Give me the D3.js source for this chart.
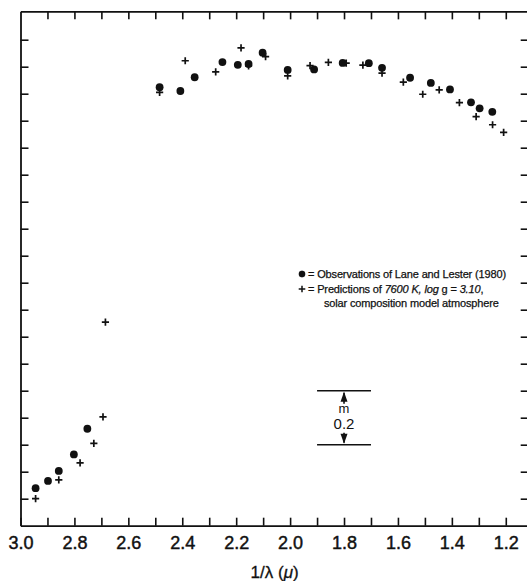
<!DOCTYPE html>
<html>
<head>
<meta charset="utf-8">
<script src="https://cdn.jsdelivr.net/npm/d3@7"></script>
<style>
  body { margin: 0; background: #fff; }
  svg { display: block; font-family: "Liberation Sans", Arial, sans-serif; }
</style>
</head>
<body>
<svg id="chart"></svg>
<script>
const width = 527;
const height = 581;

// Lane and Lester (1980) observations: 1/lambda and relative magnitude
const obsX = [2.944, 2.898, 2.858, 2.802, 2.752, 2.484, 2.407, 2.354, 2.251, 2.194, 2.154, 2.102,
              2.009, 1.911, 1.805, 1.708, 1.659, 1.555, 1.478, 1.407, 1.329, 1.297, 1.250];
const obsM = [0.139, 0.166, 0.203, 0.264, 0.359, 1.624, 1.610, 1.661, 1.717, 1.707, 1.710, 1.752,
              1.688, 1.690, 1.714, 1.713, 1.696, 1.659, 1.640, 1.616, 1.568, 1.546, 1.533];

// model predictions (7600 K, log g = 3.10)
const predX = [2.944, 2.858, 2.779, 2.728, 2.694, 2.685, 2.484, 2.389, 2.276, 2.182, 2.154, 2.091,
               2.009, 1.926, 1.858, 1.792, 1.730, 1.659, 1.580, 1.508, 1.447, 1.372, 1.310, 1.249, 1.208];
const predM = [0.100, 0.170, 0.233, 0.305, 0.403, 0.754, 1.605, 1.722, 1.681, 1.770, 1.703, 1.737,
               1.666, 1.704, 1.716, 1.713, 1.706, 1.676, 1.643, 1.598, 1.614, 1.567, 1.515, 1.485, 1.457];

const xTicks = d3.range(30, 11, -1).map(d => d / 10);
const xLabels = ["3.0", "2.8", "2.6", "2.4", "2.2", "2.0", "1.8", "1.6", "1.4", "1.2"];
const yTicks = d3.range(1, 19).map(d => d / 10);

const svg = d3.select("#chart")
              .attr("width", width)
              .attr("height", height);

const x = d3.scaleLinear()
            .domain([3.0, 1.115])
            .range([20.5, 528.7]);

const y = d3.scaleLinear()
            .domain([0, 1.905])
            .range([525.7, 11.35]);

const fmt = d => {
  const s = d.toFixed(1);
  return xLabels.includes(s) ? s : "";
};

// frame with inward ticks
const bottomAxis = svg.append("g")
                      .attr("transform", "translate(0," + y(0) + ")")
                      .call(d3.axisBottom(x).tickValues(xTicks).tickSize(-8).tickSizeOuter(0)
                              .tickPadding(11).tickFormat(fmt));
bottomAxis.selectAll("text")
          .style("font-size", "18px")
          .attr("fill", "#111")
          .attr("stroke", "#111")
          .attr("stroke-width", 0.45);

svg.append("g")
   .attr("transform", "translate(0," + y(1.905) + ")")
   .call(d3.axisTop(x).tickValues(xTicks.slice(1)).tickSize(-8).tickSizeOuter(0).tickFormat(""));

svg.append("g")
   .attr("transform", "translate(" + x(3.0) + ",0)")
   .call(d3.axisLeft(y).tickValues(yTicks).tickSize(-8).tickSizeOuter(0).tickFormat(""));

svg.append("g")
   .attr("transform", "translate(" + x(1.115) + ",0)")
   .call(d3.axisRight(y).tickValues(yTicks).tickSize(-8).tickSizeOuter(0).tickFormat(""));

svg.selectAll(".domain")
   .attr("stroke", "#111")
   .attr("stroke-width", 1.8);
svg.selectAll(".tick line")
   .attr("stroke", "#111")
   .attr("stroke-width", 1.6);

// x axis title
const title = svg.append("text")
                 .attr("x", (x(3.0) + x(1.115)) / 2)
                 .attr("y", 578)
                 .attr("text-anchor", "middle")
                 .style("font-size", "17px")
                 .attr("fill", "#111")
                 .attr("stroke", "#111")
                 .attr("stroke-width", 0.3);
title.append("tspan").text("1/λ (");
title.append("tspan").style("font-style", "italic").text("μ");
title.append("tspan").text(")");

// observations
svg.append("g")
   .selectAll("circle")
   .data(obsX)
   .enter()
   .append("circle")
   .attr("cx", d => x(d))
   .attr("cy", (d, i) => y(obsM[i]))
   .attr("r", 3.9)
   .attr("fill", "#111");

// predictions
const plus = "M-3.6,0H3.6M0,-3.6V3.6";
svg.append("g")
   .selectAll("path")
   .data(predX)
   .enter()
   .append("path")
   .attr("d", plus)
   .attr("transform", (d, i) => "translate(" + x(d) + "," + y(predM[i]) + ")")
   .attr("stroke", "#111")
   .attr("stroke-width", 1.7)
   .attr("fill", "none");

// legend
const legend = svg.append("g")
                  .style("font-size", "11px")
                  .style("letter-spacing", "-0.15px")
                  .attr("fill", "#111")
                  .attr("stroke", "#111")
                  .attr("stroke-width", 0.25);

legend.append("circle")
      .attr("cx", 302)
      .attr("cy", 274)
      .attr("r", 3.2);
legend.append("text")
      .attr("x", 308)
      .attr("y", 278)
      .text("= Observations of Lane and Lester (1980)");

legend.append("path")
      .attr("d", "M-3.3,0H3.3M0,-3.3V3.3")
      .attr("transform", "translate(302,289)")
      .attr("stroke-width", 1.5);
const row2 = legend.append("text")
                   .attr("x", 308)
                   .attr("y", 293);
row2.append("tspan").text("= Predictions of ");
row2.append("tspan").style("font-style", "italic").text("7600 K,");
row2.append("tspan").text(" ");
row2.append("tspan").style("font-style", "italic").text("log");
row2.append("tspan").text(" g = ");
row2.append("tspan").style("font-style", "italic").text("3.10");
row2.append("tspan").text(",");

legend.append("text")
      .attr("x", 324)
      .attr("y", 307)
      .text("solar composition model atmosphere");

// 0.2 mag scale bar
const bar = svg.append("g")
               .attr("stroke", "#111")
               .attr("fill", "#111");
const barTop = y(0.5);
const barBot = y(0.3);
const barMid = x(1.8);

bar.append("line")
   .attr("x1", x(1.9)).attr("x2", x(1.7))
   .attr("y1", barTop).attr("y2", barTop)
   .attr("stroke-width", 1.5);
bar.append("line")
   .attr("x1", x(1.9)).attr("x2", x(1.7))
   .attr("y1", barBot).attr("y2", barBot)
   .attr("stroke-width", 1.5);
bar.append("line")
   .attr("x1", barMid).attr("x2", barMid)
   .attr("y1", barTop + 2).attr("y2", barTop + 13)
   .attr("stroke-width", 1.6);
bar.append("path")
   .attr("d", "M" + barMid + "," + (barTop + 1) + "l-3.5,10h7z")
   .attr("stroke", "none");
bar.append("line")
   .attr("x1", barMid).attr("x2", barMid)
   .attr("y1", barBot - 12).attr("y2", barBot - 2)
   .attr("stroke-width", 1.6);
bar.append("path")
   .attr("d", "M" + barMid + "," + (barBot - 1) + "l-3.5,-10h7z")
   .attr("stroke", "none");

svg.append("text")
   .attr("x", barMid)
   .attr("y", barTop + 22)
   .attr("text-anchor", "middle")
   .style("font-size", "13px")
   .attr("fill", "#111")
   .text("m");
svg.append("text")
   .attr("x", barMid)
   .attr("y", barTop + 38)
   .attr("text-anchor", "middle")
   .style("font-size", "15px")
   .attr("fill", "#111")
   .text("0.2");
</script>
</body>
</html>
